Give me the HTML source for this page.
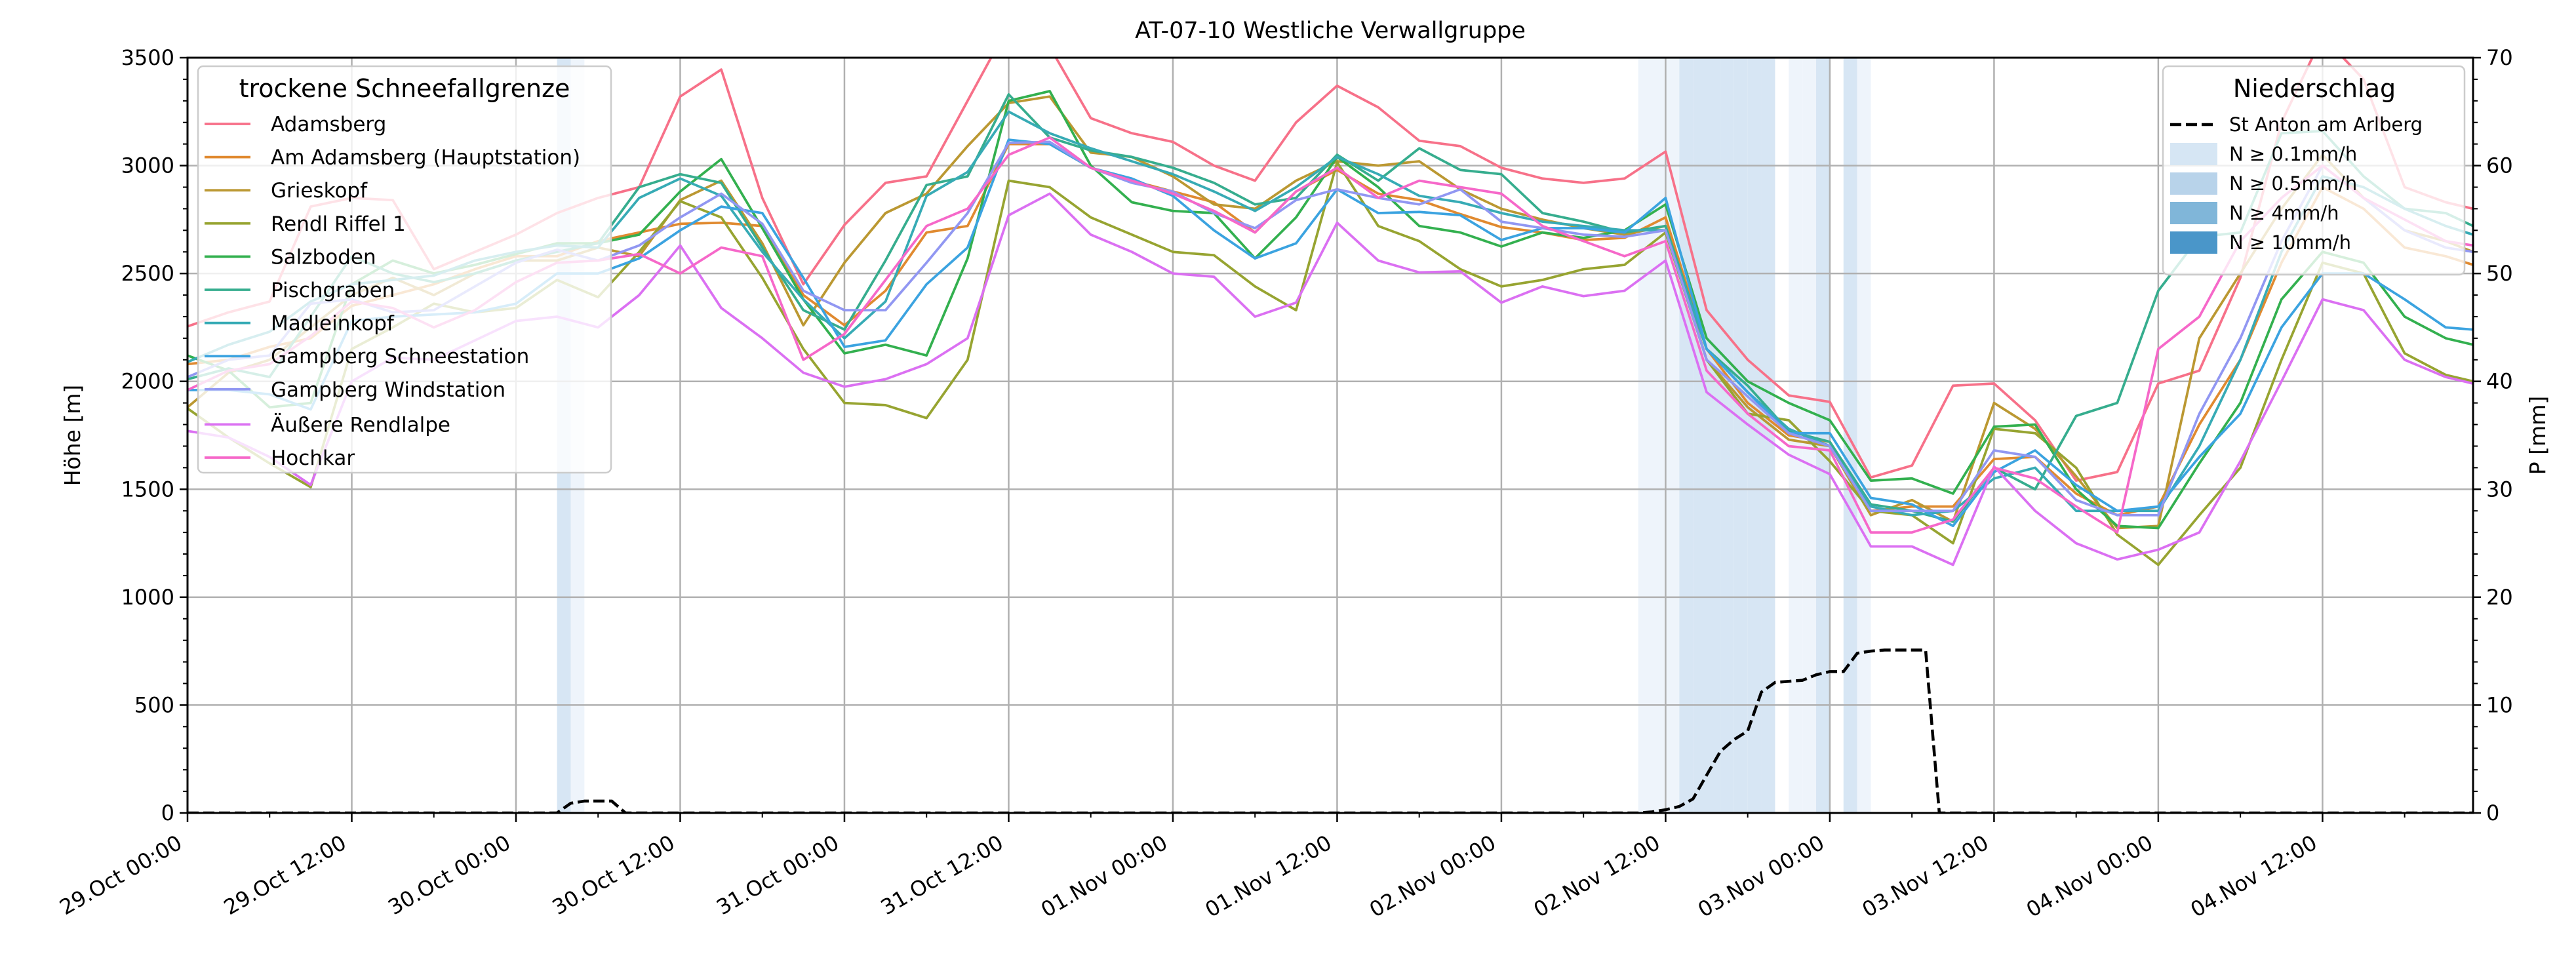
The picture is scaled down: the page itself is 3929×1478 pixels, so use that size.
<!DOCTYPE html>
<html><head><meta charset="utf-8">
<style>
html,body{margin:0;padding:0;background:#fff;}
svg{display:block;font-family:"DejaVu Sans","Liberation Sans",sans-serif;}
</style></head>
<body>
<svg id="chart" width="3929" height="1478" viewBox="0 0 3929 1478" xmlns="http://www.w3.org/2000/svg">
<defs><clipPath id="plotclip"><rect x="286" y="88" width="3486" height="1152"/></clipPath></defs>
<rect x="0" y="0" width="3929" height="1478" fill="#fff"/>
<g id="bands" clip-path="url(#plotclip)"></g>
<g id="grid"></g>
<g id="series" clip-path="url(#plotclip)"></g>
<g id="precip" clip-path="url(#plotclip)"></g>
<g id="axes"></g>
<text x="2029" y="58" font-size="35" text-anchor="middle">AT-07-10 Westliche Verwallgruppe</text>
<text transform="translate(122,664) rotate(-90)" font-size="33" text-anchor="middle">Höhe [m]</text>
<text transform="translate(3882,664) rotate(-90)" font-size="33" text-anchor="middle">P [mm]</text>
<g id="legend1"></g>
<g id="legend2"></g>
</svg>
<script>
const hours = [0,3,6,9,12,15,18,21,24,27,30,33,36,39,42,45,48,51,54,57,60,63,66,69,72,75,78,81,84,87,90,93,96,99,102,105,108,111,114,117,120,123,126,129,132,135,138,141,144,147,150,153,156,159,162,165,167];
const adamsberg = [2255,2320,2370,2810,2850,2840,2520,2600,2680,2780, 2850,2900,3320,3445,2850,2450,2725,2920,2950,3300,3650,3550,3220,3150,3110,3000,2930,3200,3370,3270,3115, 3090,2990,2940,2920,2940, 3065,2330,2100,1935,1905,1555,1610,1980,1990,1820,1540,1580,1990,2050,2480,3200,3600,3400,2900,2830,2800];
const amAdamsberg = [2080,2100,2160,2200,2350,2400,2450,2520,2580,2580, 2650,2690,2730,2735,2720,2400,2260,2420,2690,2720,3100,3100,2990,2930,2880,2830,2690,2880,2980,2870,2840, 2775,2715,2690,2655,2665, 2760,2150,1900,1750,1720,1400,1420,1420,1640,1650,1480,1380,1420,1800,2100,2550,2900,2800,2620,2580,2540];
const grieskopf = [1880,2040,2100,2250,2400,2480,2400,2500,2560,2560, 2620,2580,2840,2930,2640,2260,2550,2780,2870,3090,3290,3320,3060,3040,2950,2820,2800,2930,3020,3000,3020, 2890,2800,2750,2710,2680, 2720,2100,1880,1730,1700,1380,1450,1350,1900,1780,1560,1320,1330,2200,2500,2800,3050,2850,2700,2650,2600];
const rendlRiffel = [1875,1740,1620,1510,2150,2250,2360,2320,2340,2470, 2390,2600,2835,2760,2480,2150,1900,1890,1830,2100,2930,2900,2760,2680,2600,2585,2440,2330,3015,2720,2650, 2520,2440,2470,2520,2540, 2690,2100,1850,1820,1630,1400,1380,1250,1780,1760,1600,1290,1150,1380,1600,2100,2550,2500,2130,2030,2000];
const salzboden = [2120,2050,1880,1900,2450,2560,2500,2540,2590,2640, 2640,2680,2880,3030,2710,2380,2130,2170,2120,2570,3300,3345,3000,2830,2790,2780,2570,2760,3040,2900,2720, 2690,2625,2690,2665,2700, 2820,2200,2000,1900,1820,1540,1550,1480,1790,1800,1500,1330,1320,1620,1900,2380,2600,2550,2300,2200,2170];
const pischgraben = [2010,2060,2020,2300,2580,2500,2460,2500,2560,2600, 2640,2900,2960,2920,2620,2330,2240,2560,2910,2950,3330,3130,3070,3040,2990,2920,2820,2850,3050,2930,3080, 2980,2960,2780,2740,2690, 2720,2150,1980,1770,1720,1430,1400,1350,1600,1500,1840,1900,2420,2670,2690,3150,3160,2950,2800,2780,2720];
const madleinkopf = [2090,2170,2230,2370,2450,2470,2490,2560,2600,2630, 2620,2850,2940,2860,2600,2380,2200,2370,2860,2970,3250,3150,3080,3020,2960,2880,2790,2900,3040,2960,2860, 2830,2780,2740,2720,2700, 2700,2150,1950,1780,1700,1420,1380,1400,1550,1600,1400,1400,1400,1700,2100,2600,2950,2900,2800,2720,2680];
const gampSchnee = [1960,1960,1940,1870,2280,2300,2310,2320,2360,2500, 2500,2570,2700,2810,2780,2480,2160,2190,2450,2620,3120,3100,2990,2940,2860,2700,2570,2640,2890,2780,2785, 2770,2655,2710,2710,2690, 2850,2150,1950,1760,1760,1460,1430,1330,1580,1680,1520,1400,1420,1650,1850,2250,2500,2500,2380,2250,2240];
const gampWind = [2020,2100,2120,2360,2380,2320,2330,2440,2550,2610, 2560,2630,2760,2870,2730,2420,2330,2330,2550,2780,3105,3110,2990,2920,2880,2780,2710,2840,2890,2850,2820, 2890,2740,2710,2680,2670, 2700,2100,1930,1760,1700,1400,1400,1400,1680,1650,1450,1380,1380,1850,2200,2650,3000,2850,2700,2620,2600];
const aeussereRendlalpe = [1770,1740,1650,1520,2000,2110,2100,2190,2280,2300, 2250,2400,2630,2340,2200,2040,1975,2010,2080,2200,2770,2870,2680,2600,2500,2485,2300,2365,2735,2560,2505, 2510,2365,2440,2395,2420, 2560,1950,1800,1660,1570,1235,1235,1150,1605,1400,1250,1175,1220,1300,1630,2000,2380,2330,2100,2020,1990];
const hochkar = [1960,2050,2080,2210,2370,2340,2250,2330,2460,2550, 2560,2590,2500,2620,2580,2100,2220,2470,2720,2800,3050,3130,2990,2930,2870,2790,2690,2880,2990,2850,2930, 2900,2870,2720,2650,2580, 2650,2050,1850,1700,1680,1300,1300,1360,1600,1550,1420,1300,2150,2300,2650,2850,3000,2850,2750,2650,2630];

const seriesNames = ["Adamsberg","Am Adamsberg (Hauptstation)","Grieskopf","Rendl Riffel 1","Salzboden","Pischgraben","Madleinkopf","Gampberg Schneestation","Gampberg Windstation","Äußere Rendlalpe","Hochkar"];
const seriesData = [adamsberg,amAdamsberg,grieskopf,rendlRiffel,salzboden,pischgraben,madleinkopf,gampSchnee,gampWind,aeussereRendlalpe,hochkar];
const seriesColors = ["#f77189","#e08a30","#bb9832","#97a431","#33b04f","#36ad8e","#37abb5","#3ba3e0","#9197f2","#db70f2","#f668c9"];

const precipHours = [0,27,28,29,30,31,32,106,107,108,109,110,111,112,113,114,115,116,117,118,119,120,121,122,123,124,125,126,127,128,167];
const precipValues = [0,0,0.9,1.1,1.1,1.1,0,0,0.1,0.3,0.6,1.3,3.5,5.7,6.8,7.6,11.2,12.1,12.2,12.3,12.8,13.1,13.1,14.8,15.0,15.1,15.1,15.1,15.1,0,0];

const bandHours = [27,28,106,107,108,109,110,111,112,113,114,115,117,118,119,121,122];
const bandLevels = [2,1,1,1,1,2,2,2,2,2,2,2,1,1,2,2,1];

const yTicks = [0,500,1000,1500,2000,2500,3000,3500];
const y2Ticks = [0,10,20,30,40,50,60,70];
const xTickHours = [0,12,24,36,48,60,72,84,96,108,120,132,144,156];
const xTickLabels = ["29.Oct 00:00","29.Oct 12:00","30.Oct 00:00","30.Oct 12:00","31.Oct 00:00","31.Oct 12:00","01.Nov 00:00","01.Nov 12:00","02.Nov 00:00","02.Nov 12:00","03.Nov 00:00","03.Nov 12:00","04.Nov 00:00","04.Nov 12:00"];

const L=286,R=3772,T=88,B=1240, HMAX=167;
const xs = h => L + (h/HMAX)*(R-L);
const ys = v => B - (v/3500)*(B-T);
const ys2 = v => B - (v/70)*(B-T);
const NS="http://www.w3.org/2000/svg";
function mk(tag, attrs, parent){const e=document.createElementNS(NS,tag);for(const k in attrs)e.setAttribute(k,attrs[k]);parent.appendChild(e);return e;}

const bandsG=document.getElementById('bands');
const bandFill={1:"#eef4fb",2:"#d7e6f4"};
bandHours.forEach((h,i)=>{
  const r=mk('rect',{x:xs(h),y:T,width:xs(h+1)-xs(h),height:B-T,fill:bandFill[bandLevels[i]]},bandsG);
  
  
});

const gridG=document.getElementById('grid');
yTicks.forEach(v=>{ if(v>0&&v<3500){const l=mk('line',{x1:L,x2:R,y1:ys(v),y2:ys(v),stroke:"#b0b0b0","stroke-width":2.5},gridG);
  
  }});
xTickHours.forEach(h=>{ if(h>0){const l=mk('line',{x1:xs(h),x2:xs(h),y1:T,y2:B,stroke:"#b0b0b0","stroke-width":2.5},gridG);
  
  }});

const seriesG=document.getElementById('series');
seriesData.forEach((arr,si)=>{
  const d=arr.map((v,i)=>(i?'L':'M')+xs(hours[i]).toFixed(1)+','+ys(v).toFixed(1)).join('');
  const p=mk('path',{d:d,fill:"none",stroke:seriesColors[si],"stroke-width":3.75,"stroke-linejoin":"round"},seriesG);
  
  
});

const precipG=document.getElementById('precip');
const pd=precipValues.map((v,i)=>(i?'L':'M')+xs(precipHours[i]).toFixed(1)+','+ys2(v).toFixed(1)).join('');
const pp=mk('path',{d:pd,fill:"none",stroke:"#000","stroke-width":4.5,"stroke-dasharray":"17,7"},precipG);



const axG=document.getElementById('axes');
mk('rect',{x:L,y:T,width:R-L,height:B-T,fill:"none",stroke:"#000","stroke-width":3},axG);
yTicks.forEach(v=>{
  mk('line',{x1:L-12,x2:L,y1:ys(v),y2:ys(v),stroke:"#000","stroke-width":2.5},axG);
  const t=mk('text',{x:L-20,y:ys(v)+11,"font-size":32,"text-anchor":"end"},axG);t.textContent=v;
  
  
});
for(let v=100;v<3500;v+=100){ if(v%500) mk('line',{x1:L-7,x2:L,y1:ys(v),y2:ys(v),stroke:"#000","stroke-width":2},axG);}
y2Ticks.forEach(v=>{
  mk('line',{x1:R,x2:R+12,y1:ys2(v),y2:ys2(v),stroke:"#000","stroke-width":2.5},axG);
  const t=mk('text',{x:R+20,y:ys2(v)+11,"font-size":32,"text-anchor":"start"},axG);t.textContent=v;
  
  
});
for(let v=2;v<70;v+=2){ if(v%10) mk('line',{x1:R,x2:R+7,y1:ys2(v),y2:ys2(v),stroke:"#000","stroke-width":2},axG);}
xTickHours.forEach((h,i)=>{
  mk('line',{x1:xs(h),x2:xs(h),y1:B,y2:B+14,stroke:"#000","stroke-width":2.5},axG);
  const t=mk('text',{transform:`translate(${xs(h)-6},${B+52}) rotate(-30)`,"font-size":32,"text-anchor":"end"},axG);
  t.textContent=xTickLabels[i];
  
  
});
for(let h=6;h<HMAX;h+=12) mk('line',{x1:xs(h),x2:xs(h),y1:B,y2:B+7,stroke:"#000","stroke-width":2},axG);

// legend 1
const lg1=document.getElementById('legend1');
mk('rect',{x:302,y:101,width:630,height:620,rx:8,fill:"rgba(255,255,255,0.8)",stroke:"#cccccc","stroke-width":2.5},lg1);
const t1=mk('text',{x:617,y:148,"font-size":38,"text-anchor":"middle"},lg1);t1.textContent="trockene Schneefallgrenze";


seriesNames.forEach((n,i)=>{
  const y=189+i*50.6 + (i>=9?3:0);
  const g=mk('g',{},lg1);
  
  
  mk('line',{x1:312,x2:382,y1:y,y2:y,stroke:seriesColors[i],"stroke-width":3.75},g);
  const t=mk('text',{x:413,y:y+11,"font-size":31},g);t.textContent=n;
});
// legend 2
const lg2=document.getElementById('legend2');
mk('rect',{x:3299,y:101,width:460,height:318,rx:8,fill:"rgba(255,255,255,0.8)",stroke:"#cccccc","stroke-width":2.5},lg2);
const t2=mk('text',{x:3530,y:148,"font-size":38,"text-anchor":"middle"},lg2);t2.textContent="Niederschlag";


const lg2Labels=["St Anton am Arlberg","N ≥ 0.1mm/h","N ≥ 0.5mm/h","N ≥ 4mm/h","N ≥ 10mm/h"];
const lg2Colors=[null,"#d6e6f4","#b8d3ea","#80b6d9","#4a96c9"];
lg2Labels.forEach((n,i)=>{
  const y=190+i*45;
  const g=mk('g',{},lg2);
  
  
  if(i===0) mk('line',{x1:3310,x2:3380,y1:y,y2:y,stroke:"#000","stroke-width":4.5,"stroke-dasharray":"17,7"},g);
  else mk('rect',{x:3310,y:y-17,width:72,height:34,fill:lg2Colors[i]},g);
  const t=mk('text',{x:3400,y:y+10,"font-size":29},g);
  t.textContent=n;
});
</script>
</body></html>
